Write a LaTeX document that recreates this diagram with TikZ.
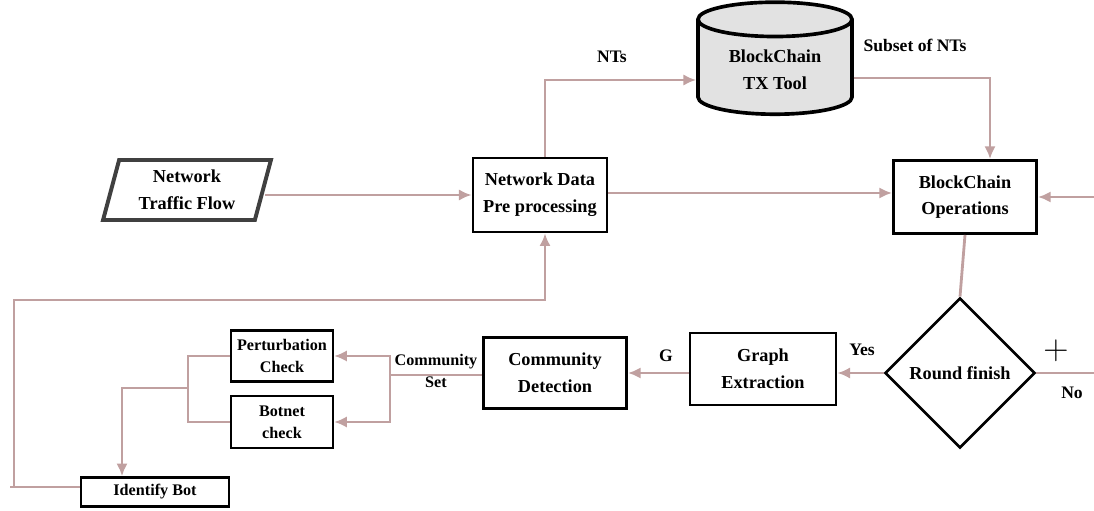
\documentclass[tikz,border=0pt]{standalone}
\usepackage{fontspec}
\setmainfont{Liberation Serif}
\usepackage{xcolor}
\usetikzlibrary{arrows.meta, shapes.geometric}

\definecolor{linkcol}{RGB}{192,160,160}
\definecolor{toolfill}{RGB}{226,226,226}
\definecolor{inputcol}{RGB}{64,64,64}

\begin{document}
\begin{tikzpicture}[x=0.025cm, y=-0.025cm,
    block/.style={draw, line width=1.9pt, align=center, inner sep=2pt,
      font=\fontsize{13}{19}\selectfont\bfseries},
    smallblock/.style={block, line width=1.6pt,
      font=\fontsize{11.5}{15.5}\selectfont\bfseries},
    flow/.style={draw=linkcol, line width=2pt, -{Latex[length=9pt,width=8pt]}},
    link/.style={draw=linkcol, line width=2pt},
    lbl/.style={align=center, font=\fontsize{12.5}{16}\selectfont\bfseries}]

    \useasboundingbox (0,0) rectangle (1094,511);

    % Blocchi
    \node[block, draw=inputcol, line width=2.8pt, trapezium, trapezium left angle=75,
      trapezium right angle=105, minimum width=3.8cm, minimum height=1.5cm]
      (flowin) at (187,190) {Network\\Traffic Flow};
    \node[block, minimum width=3.35cm, minimum height=1.85cm] (prep) at (540,195)
      {Network Data\\Pre processing};
    \node[block, cylinder, shape border rotate=90, aspect=0.35, fill=toolfill,
      line width=2.6pt, minimum width=3.85cm, minimum height=2.8cm] (tool) at (775,70)
      {BlockChain\\TX Tool};
    \node[block, minimum width=3.58cm, minimum height=1.83cm] (bcops) at (965,197)
      {BlockChain\\Operations};
    \node[block, diamond, aspect=1, minimum width=3.75cm, minimum height=3.75cm,
      inner sep=0pt] (round) at (960,373) {Round finish};
    \node[block, minimum width=3.65cm, minimum height=1.8cm] (graph) at (763,369)
      {Graph\\Extraction};
    \node[block, minimum width=3.58cm, minimum height=1.78cm] (commdet) at (555,373)
      {Community\\Detection};
    \node[smallblock, minimum width=2.55cm, minimum height=1.28cm] (pert) at (282,356)
      {Perturbation\\Check};
    \node[smallblock, minimum width=2.55cm, minimum height=1.3cm] (botchk) at (282,422)
      {Botnet\\check};
    \node[smallblock, minimum width=3.7cm, minimum height=0.73cm] (idbot) at (155,492)
      {Identify Bot};

    % Punti di snodo
    \coordinate (ntsbend) at (545,80);
    \coordinate (subbend) at (990,78);
    \coordinate (midrow) at (600,193);
    \coordinate (rightin) at (1094,197);
    \coordinate (rightout) at (1094,373);
    \coordinate (split) at (390,375);
    \coordinate (merge) at (188,388);
    \coordinate (botin) at (122,388);
    \coordinate (loopa) at (14,487);
    \coordinate (loopb) at (14,300);
    \coordinate (loopc) at (545,300);

    % Collegamenti
    \draw[flow] (flowin.east |- prep.west) -- (prep.west);
    \draw[flow] (prep.north -| ntsbend) -- (ntsbend) -- (tool.west |- ntsbend);
    \draw[flow] (tool.east |- subbend) -- (subbend) -- (bcops.north -| subbend);
    \draw[flow] (prep.east |- midrow) -- (bcops.west |- midrow);
    \draw[flow] (rightin) -- (bcops.east |- rightin);
    \draw[link] (bcops.south) -- (round.north);
    \draw[flow] (round.west) -- (graph.east |- round.west);
    \draw[link] (round.east) -- (rightout);
    \draw[flow] (graph.west |- commdet.east) -- (commdet.east);
    \draw[link] (commdet.west |- split) -- (split);
    \draw[flow] (split) |- (pert.east);
    \draw[flow] (split) |- (botchk.east);
    \draw[link] (pert.west) -| (merge);
    \draw[link] (botchk.west) -| (merge);
    \draw[flow] (merge) -- (botin) -- (idbot.north -| botin);
    \draw[link] (idbot.west |- loopa) -- ([xshift=-3pt]loopa);
    \draw[flow] (loopa) -- (loopb) -- (loopc) -- (prep.south -| loopc);

    % Etichette
    \node[lbl] (ntslbl) at (612,57) {NTs};
    \node[lbl] (sublbl) at (915,45) {Subset of NTs};
    \node[lbl] (yeslbl) at (862,350) {Yes};
    \node[lbl] (nolbl) at (1072,393) {No};
    \node[lbl] (glbl) at (666,356) {G};
    \node[lbl, font=\fontsize{11.5}{16}\selectfont\bfseries] (setlbl) at (436,371)
      {Community\\Set};
    \node (plus) at (1056,351) {\fontsize{30}{30}\selectfont$+$};
\end{tikzpicture}
\end{document}
